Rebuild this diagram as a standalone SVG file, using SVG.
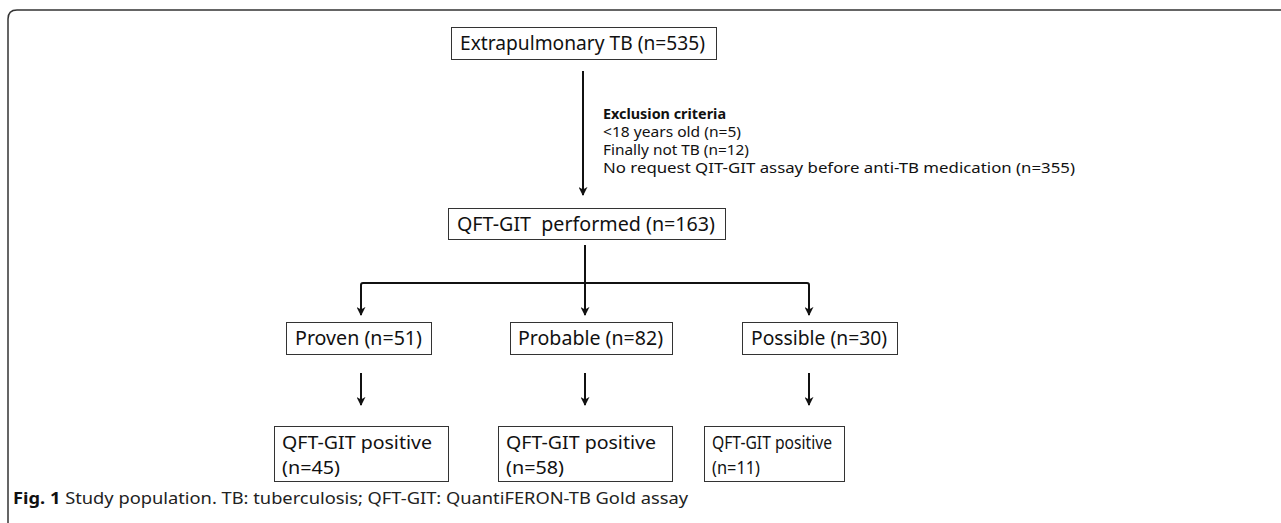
<svg xmlns="http://www.w3.org/2000/svg" width="1281" height="523" viewBox="0 0 1281 523">
<defs>
<style>
.box{fill:#fff;stroke:#333;stroke-width:1}
.t{font-family:"Noto Sans","Open Sans",sans-serif;fill:#111}
.big{font-size:20px}
.mid{font-size:18px}
.sm{font-size:14px}
.cap{font-family:"Noto Sans","Open Sans",sans-serif;font-size:16px;fill:#222}
.ln{fill:none;stroke:#111;stroke-width:2}
</style>
<marker id="ah" viewBox="0 0 10 10" refX="9" refY="5" markerWidth="4.5" markerHeight="4.5" orient="auto" markerUnits="strokeWidth">
<path d="M0,0 L10,5 L0,10 L3,5 z" fill="#111"/>
</marker>
</defs>
<rect width="1281" height="523" fill="#fff"/>
<path d="M8,523 V19 Q8,10 17,10 H1281" fill="none" stroke="#333" stroke-width="1.5"/>

<g id="connectors">
<path class="ln" d="M583,71 V195" marker-end="url(#ah)"/>
<path class="ln" d="M585,245 V283"/>
<path class="ln" d="M361,315 V285 Q361,283 363,283 H807 Q809,283 809,285 V315" marker-end="url(#ah)"/>
<path class="ln" d="M361,290 V315" marker-end="url(#ah)"/>
<path class="ln" d="M585,283 V315" marker-end="url(#ah)"/>
<path class="ln" d="M361,373 V405" marker-end="url(#ah)"/>
<path class="ln" d="M585,373 V405" marker-end="url(#ah)"/>
<path class="ln" d="M809,373 V405" marker-end="url(#ah)"/>
</g>

<g id="n1"><rect class="box" x="451.5" y="27.5" width="265" height="32"/>
<text class="t big" x="460" y="50" textLength="245" lengthAdjust="spacingAndGlyphs">Extrapulmonary TB (n=535)</text></g>

<g id="excl">
<text class="t sm" x="603" y="119" font-weight="bold" textLength="123" lengthAdjust="spacingAndGlyphs">Exclusion criteria</text>
<text class="t sm" x="603" y="137" textLength="138" lengthAdjust="spacingAndGlyphs">&lt;18 years old (n=5)</text>
<text class="t sm" x="603" y="155" textLength="146" lengthAdjust="spacingAndGlyphs">Finally not TB (n=12)</text>
<text class="t sm" x="603" y="173" textLength="472" lengthAdjust="spacingAndGlyphs">No request QIT-GIT assay before anti-TB medication (n=355)</text>
</g>

<g id="n2"><rect class="box" x="448.5" y="208.5" width="277" height="31"/>
<text class="t big" x="457" y="231" textLength="258" lengthAdjust="spacingAndGlyphs" xml:space="preserve">QFT-GIT  performed (n=163)</text></g>

<g id="n3"><rect class="box" x="286.5" y="322.5" width="145" height="32"/>
<text class="t big" x="295" y="345" textLength="127" lengthAdjust="spacingAndGlyphs">Proven (n=51)</text></g>
<g id="n4"><rect class="box" x="510.5" y="322.5" width="162" height="32"/>
<text class="t big" x="518" y="345" textLength="145" lengthAdjust="spacingAndGlyphs">Probable (n=82)</text></g>
<g id="n5"><rect class="box" x="742.5" y="322.5" width="155" height="32"/>
<text class="t big" x="751" y="345" textLength="136" lengthAdjust="spacingAndGlyphs">Possible (n=30)</text></g>

<g id="n6"><rect class="box" x="274.5" y="426.5" width="174" height="55"/>
<text class="t mid" x="282" y="449" textLength="150" lengthAdjust="spacingAndGlyphs">QFT-GIT positive</text>
<text class="t mid" x="282" y="474" textLength="58" lengthAdjust="spacingAndGlyphs">(n=45)</text></g>
<g id="n7"><rect class="box" x="498.5" y="426.5" width="174" height="55"/>
<text class="t mid" x="506" y="449" textLength="150" lengthAdjust="spacingAndGlyphs">QFT-GIT positive</text>
<text class="t mid" x="506" y="474" textLength="58" lengthAdjust="spacingAndGlyphs">(n=58)</text></g>
<g id="n8"><rect class="box" x="704.5" y="426.5" width="140" height="55"/>
<text class="t mid" x="712" y="449" textLength="120" lengthAdjust="spacingAndGlyphs">QFT-GIT positive</text>
<text class="t mid" x="712" y="474" textLength="48" lengthAdjust="spacingAndGlyphs">(n=11)</text></g>

<text class="cap" x="13" y="504" textLength="675" lengthAdjust="spacingAndGlyphs"><tspan font-weight="bold" fill="#111">Fig. 1</tspan> Study population. TB: tuberculosis; QFT-GIT: QuantiFERON-TB Gold assay</text>
</svg>
